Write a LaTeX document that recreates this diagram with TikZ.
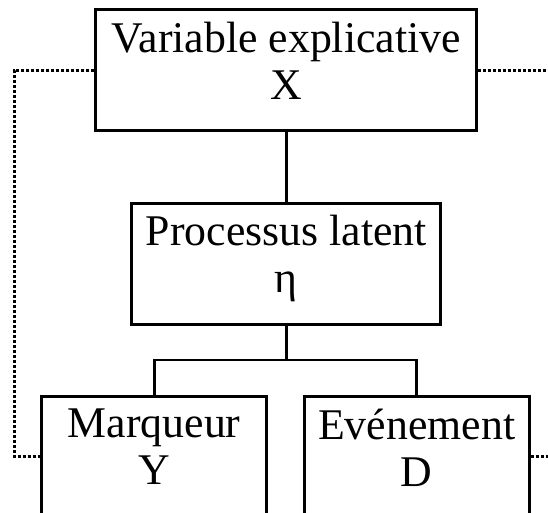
\documentclass[tikz,border=0pt]{standalone}
\usepackage{fontspec}
\setmainfont{Liberation Serif}
\usetikzlibrary{calc}
\tikzset{
  box/.style={draw=black, line width=3pt, minimum height=121pt, inner sep=0pt},
  link/.style={draw=black, line width=2.8pt},
  dots/.style={draw=black, line width=3pt, dash pattern=on 3pt off 2pt},
  lab/.style={anchor=north, align=center, inner sep=0pt, font=\fontsize{43.8}{47.6}\selectfont},
}

\begin{document}
\begin{tikzpicture}[x=1pt, y=-1pt]
  \useasboundingbox (0,0) rectangle (548,513);
  \fill[white] (0,0) rectangle (548,513);
  \clip (0,0) rectangle (548,513);
  \node[box, minimum width=381pt] (var) at (286.3,70.5) {};
  \node[box, minimum width=309pt] (lat) at (286.3,263.5) {};
  \node[box, minimum width=225pt] (mark) at (154.2,456.5) {};
  \node[box, minimum width=225pt] (ev) at (416.7,456.5) {};
  \node[lab] (varlab) at ($(var.north)+(0,13)$) {Variable explicative\\X};
  \node[lab] (latlab) at ($(lat.north)+(0,13)$) {Processus latent\\η};
  \node[lab] (marklab) at ($(mark.north)+(0,14)$) {Marqueur\\Y};
  \node[lab] (evlab) at ($(ev.north)+(0,14)$) {Evénement\\D};
  \coordinate (split) at (286.3,360);
  \coordinate (lx) at (14,0);
  \coordinate (rx) at (548,0);
  \draw[link] (var.south) -- (lat.north);
  \draw[link] (lat.south) -- (split);
  \draw[link] (split) -| (mark.north);
  \draw[link] (split) -| (ev.north);
  \draw[dots] (var.west) -- (var.west -| lx) -- (mark.west -| lx) -- (mark.west);
  \draw[dots] (var.east) -- (var.east -| rx);
  \draw[dots] (ev.east) -- (ev.east -| rx);
\end{tikzpicture}
\end{document}
